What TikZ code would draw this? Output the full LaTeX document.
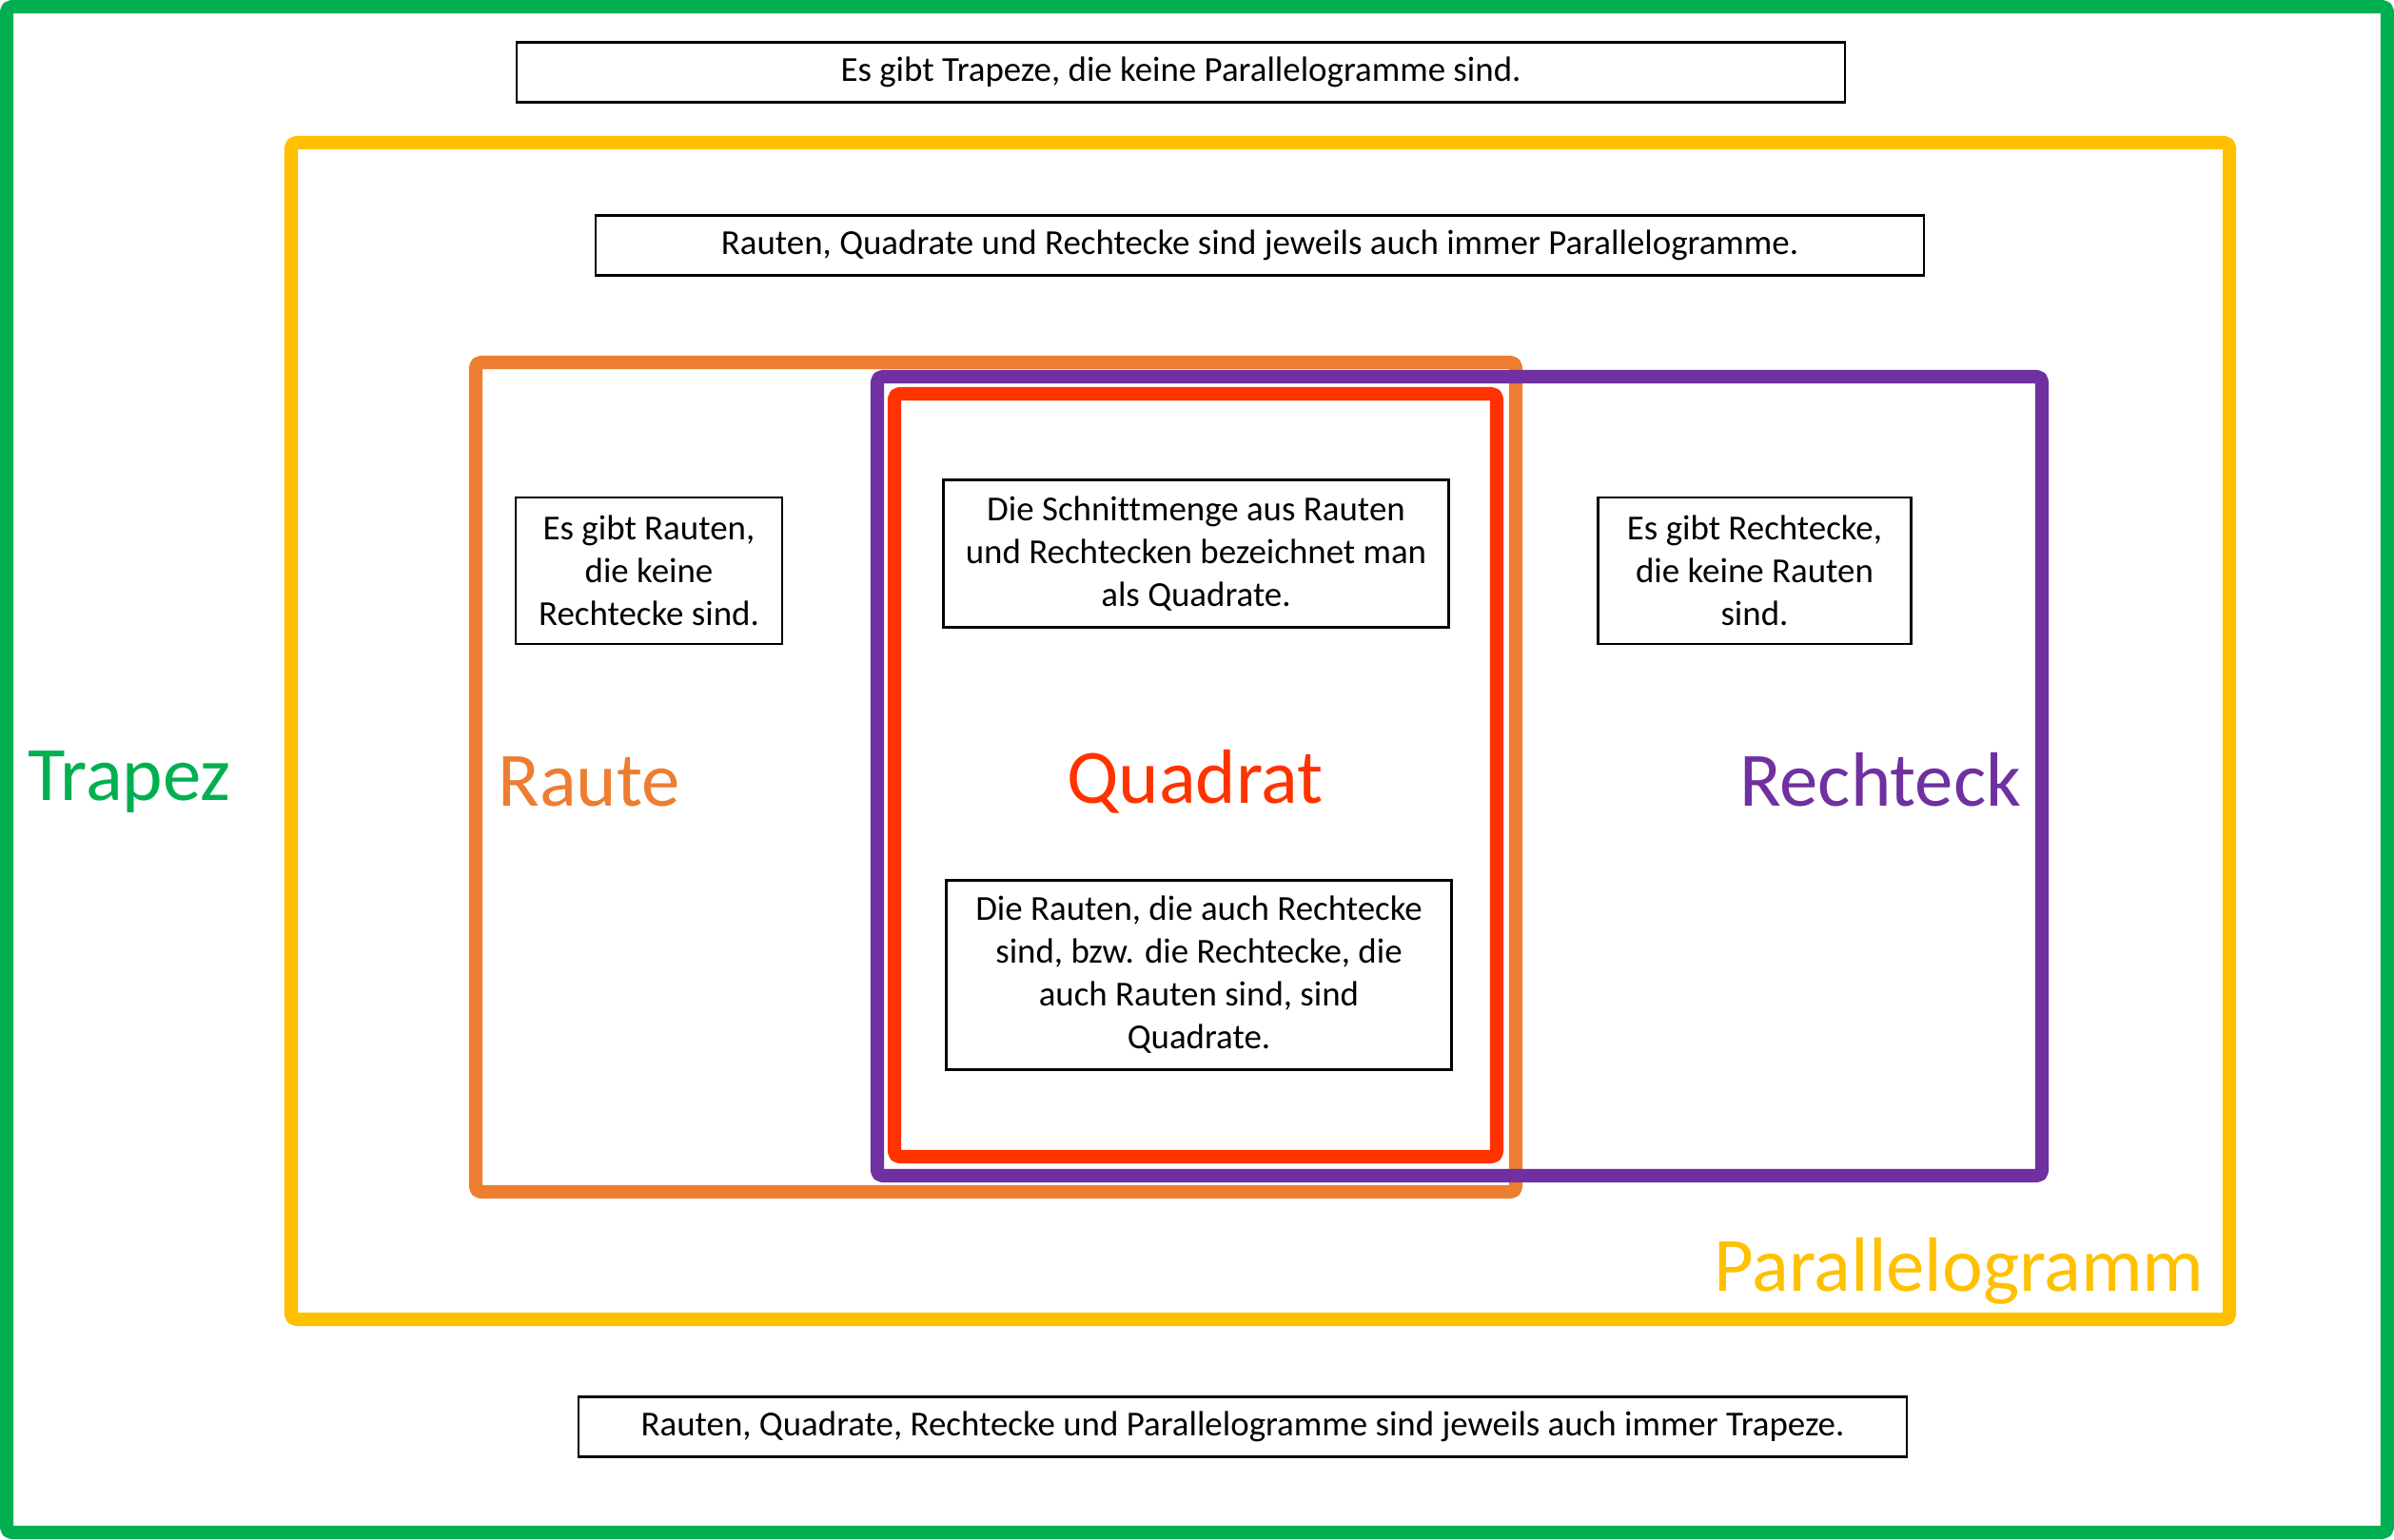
\documentclass[tikz,border=0pt]{standalone}
\usepackage{fontspec}
\setmainfont{Carlito}[Ligatures=CommonOff]
\usepackage{xcolor}
\usetikzlibrary{positioning}

\definecolor{trapezgreen}{HTML}{00B050}
\definecolor{parayellow}{HTML}{FFC000}
\definecolor{rauteorange}{HTML}{ED7D31}
\definecolor{rechteckpurple}{HTML}{7030A0}
\definecolor{quadratred}{HTML}{FF3300}

\begin{document}
\begin{tikzpicture}[
  x=1cm, y=-1cm,
  font=\fontsize{10.5}{12.8}\selectfont,
  note/.style={draw, line width=0.8pt, align=center, inner sep=2pt},
  widenote/.style={note, minimum width=13.96cm, minimum height=0.63cm},
  setline/.style={line width=4pt, line join=round, rounded corners=1.5pt},
  setname/.style={font=\fontsize{23}{28}\selectfont, anchor=base}
]
\useasboundingbox (0,0) rectangle (25.16,16.18);

% Sets
\draw[setline, trapezgreen] (0.07,0.07) rectangle (25.09,16.11);
\draw[setline, parayellow] (3.06,1.50) rectangle (23.43,13.87);
\draw[setline, rauteorange] (5.00,3.81) rectangle (15.93,12.53);
\draw[setline, rechteckpurple] (9.22,3.96) rectangle (21.46,12.36);
\draw[setline, quadratred] (9.40,4.14) rectangle (15.73,12.16);

% Set names
\node[setname, text=trapezgreen] (trapez) at (1.36,8.41) {Trapez};
\node[setname, text=rauteorange] (raute) at (6.19,8.47) {Raute};
\node[setname, text=quadratred] (quadrat) at (12.56,8.44) {Quadrat};
\node[setname, text=rechteckpurple] (rechteck) at (19.76,8.47) {Rechteck};
\node[setname, text=parayellow] (para) at (20.59,13.57) {Parallelogramm};

% Text boxes
\node[widenote] (t1) at (12.41,0.76) {Es gibt Trapeze, die keine Parallelogramme sind.};
\node[widenote] (t2) at (13.24,2.58) {Rauten, Quadrate und Rechtecke sind jeweils auch immer Parallelogramme.};
\node[note, minimum width=2.80cm, minimum height=1.54cm] (t3) at (6.82,6.00) {Es gibt Rauten,\\die keine\\Rechtecke sind.};
\node[note, minimum width=5.31cm, minimum height=1.55cm] (t4) at (12.57,5.82) {Die Schnittmenge aus Rauten\\und Rechtecken bezeichnet man\\als Quadrate.};
\node[note, minimum width=3.29cm, minimum height=1.54cm] (t5) at (18.44,6.00) {Es gibt Rechtecke,\\die keine Rauten\\sind.};
\node[note, minimum width=5.31cm, minimum height=1.99cm] (t6) at (12.60,10.25) {Die Rauten, die auch Rechtecke\\sind, bzw. die Rechtecke, die\\auch Rauten sind, sind\\Quadrate.};
\node[widenote] (t7) at (13.06,15.00) {Rauten, Quadrate, Rechtecke und Parallelogramme sind jeweils auch immer Trapeze.};

\end{tikzpicture}
\end{document}
